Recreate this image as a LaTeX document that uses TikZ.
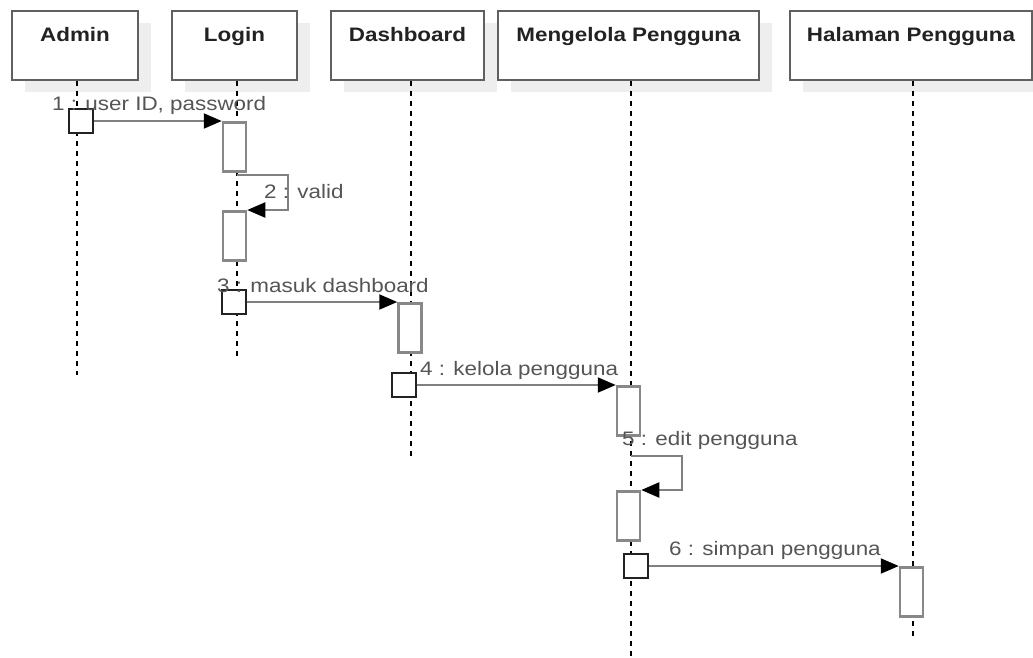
\documentclass[tikz,border=0pt]{standalone}
\usepackage{fontspec}
\setmainfont{Liberation Sans}[FakeStretch=1.15]
\usetikzlibrary{arrows.meta,shadows}
\definecolor{Ink}{HTML}{222222}
\definecolor{Frame}{HTML}{606060}
\definecolor{Bar}{HTML}{888888}
\definecolor{Wire}{HTML}{808080}
\definecolor{Note}{HTML}{555555}
\definecolor{Shade}{HTML}{EEEEEE}

\begin{document}
\begin{tikzpicture}[x=1pt,y=-1pt,head/.style={draw=Frame,line width=2pt,fill=white,anchor=north,font=\fontsize{19.5}{23}\selectfont\bfseries,text=Ink,inner xsep=0pt,inner ysep=5pt,text height=25pt,text depth=34pt,drop shadow={shadow xshift=13pt,shadow yshift=-12pt,fill=Shade,opacity=1}},act/.style={draw=Bar,line width=2.5pt,fill=white,anchor=north,minimum width=23pt,minimum height=49pt,inner sep=0pt},sendbox/.style={draw=Ink,line width=2pt,fill=white,minimum size=24pt,inner sep=0pt},msg/.style={draw=Wire,line width=2pt,-{Triangle[length=18pt,width=15pt,color=black]}},life/.style={draw=black,line width=1.5pt,dash pattern=on 5pt off 5pt},tag/.style={font=\fontsize{19.5}{23}\selectfont,text=Note,inner sep=0pt,anchor=base west}]
 \useasboundingbox (0,0) rectangle (1033,657);
 \node[head,minimum width=126pt] (admin) at (75,10) {Admin};
 \node[head,minimum width=125pt] (login) at (234.5,10) {Login};
 \node[head,minimum width=153pt] (dash) at (407.5,10) {Dashboard};
 \node[head,minimum width=261pt] (kelola) at (628.5,10) {Mengelola Pengguna};
 \node[head,minimum width=242pt] (halaman) at (911,10) {Halaman Pengguna};
 \coordinate (adminEnd) at (77,375);
 \coordinate (loginEnd) at (237,357);
 \coordinate (dashEnd) at (411,457);
 \coordinate (kelolaEnd) at (631,657);
 \coordinate (halamanEnd) at (913,637);
 \draw[life] (admin.south -| adminEnd) -- (adminEnd);
 \draw[life] (login.south -| loginEnd) -- (loginEnd);
 \draw[life] (dash.south -| dashEnd) -- (dashEnd);
 \draw[life] (kelola.south -| kelolaEnd) -- (kelolaEnd);
 \draw[life] (halaman.south -| halamanEnd) -- (halamanEnd);
 \node[act] (a1) at (234.5,121) {};
 \node[act] (a2) at (234.5,210) {};
 \node[act] (a3) at (410,302) {};
 \node[act] (a4) at (628.5,385) {};
 \node[act] (a5) at (628.5,490) {};
 \node[act] (a6) at (911.5,566) {};
 \node[sendbox] (s1) at (81,121) {};
 \node[sendbox] (s3) at (233.5,302) {};
 \node[sendbox] (s4) at (403.5,385) {};
 \node[sendbox] (s6) at (636,566) {};
 \coordinate (v2) at (237,175);
 \coordinate (v5) at (631,456);
 \draw[msg] (s1) -- (a1.north west);
 \draw[msg] (v2) -- ++(51,0) |- (a2.north east);
 \draw[msg] (s3) -- (a3.north west);
 \draw[msg] (s4) -- (a4.north west);
 \draw[msg] (v5) -- ++(51,0) |- (a5.north east);
 \draw[msg] (s6) -- (a6.north west);
 \node[tag] (l1) at (52,110) {1 : user ID, password};
 \node[tag] (l2) at (264,198) {2 : valid};
 \node[tag] (l3) at (217,292) {3 : masuk dashboard};
 \node[tag] (l4) at (420,375) {4 : kelola pengguna};
 \node[tag] (l5) at (622,445) {5 : edit pengguna};
 \node[tag] (l6) at (669,555) {6 : simpan pengguna};
\end{tikzpicture}
\end{document}
